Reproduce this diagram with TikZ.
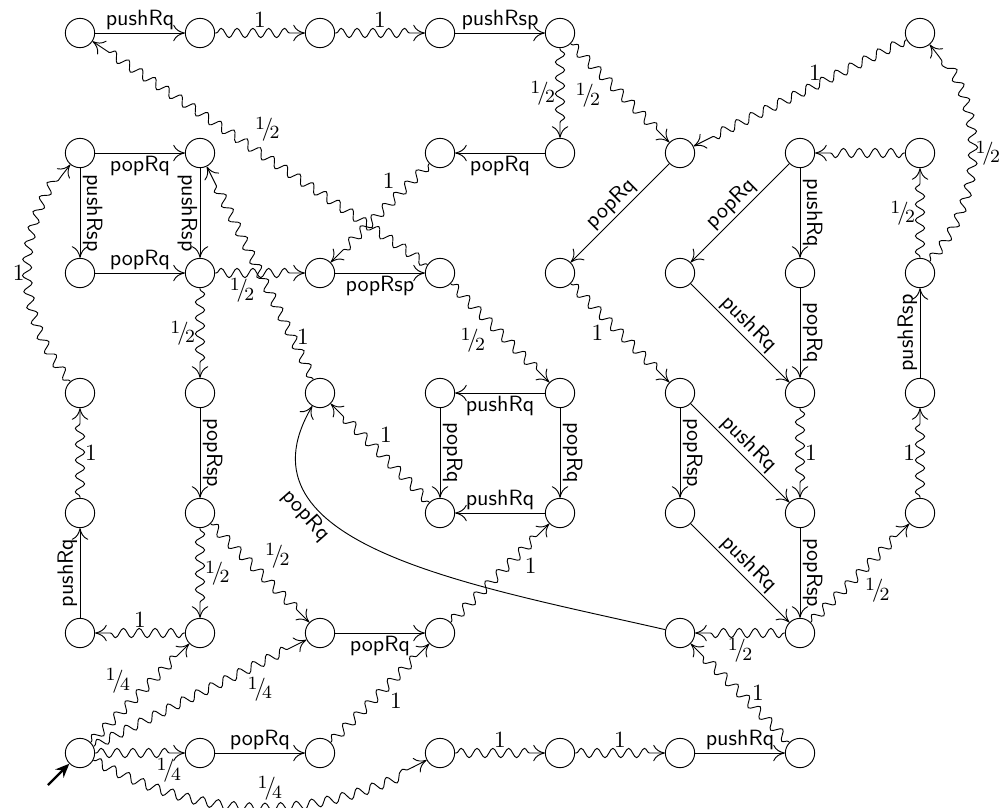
\documentclass[tikz,border=0pt]{standalone}
\usetikzlibrary{arrows.meta,decorations.pathmorphing}
\newcommand{\myfr}[2]{\raisebox{.62ex}{\footnotesize #1}\kern-.14em/\kern-.16em\raisebox{-.35ex}{\footnotesize #2}}
\begin{document}
\begin{tikzpicture}[x=0.43pt,y=-0.43pt,
  >={To[length=5pt,width=7pt]},
  stt/.style={circle,draw,minimum size=12.6pt,inner sep=0pt},
  trn/.style={->},
  prb/.style={->,decorate,decoration={snake,amplitude=2pt,segment length=6.8pt,pre length=0.5pt,post length=2.2mm}},
  act/.style={font=\sffamily\fontsize{9.5}{11}\selectfont,inner sep=1pt},
  num/.style={font=\fontsize{10}{11}\selectfont,inner sep=2pt},
  lbldn/.style={act,rotate=-90,anchor=south},
  lbldnl/.style={act,rotate=-90,anchor=north},
  lblup/.style={act,rotate=90,anchor=south},
  initarr/.style={line width=1pt,-{Stealth[length=6pt,width=5pt]}},
]
\useasboundingbox (0,0) rectangle (1002,807);
% states
\foreach \c/\r in {0/0,0/1,0/2,0/3,0/4,0/5,0/6,
                   1/0,1/1,1/2,1/3,1/4,1/5,1/6,
                   2/0,2/2,2/3,2/5,2/6,
                   3/0,3/1,3/2,3/3,3/4,3/5,3/6,
                   4/0,4/1,4/2,4/3,4/4,4/6,
                   5/1,5/2,5/3,5/4,5/5,5/6,
                   6/1,6/2,6/3,6/4,6/5,6/6,
                   7/0,7/1,7/2,7/3,7/4}
  \node[stt] (n\c\r) at ({80+120*\c},{33+120*\r}) {};
% top row
\draw[trn] (n00) -- node[act,above]{pushRq} (n10);
\draw[prb] (n10) -- node[num,above]{1} (n20);
\draw[prb] (n20) -- node[num,above]{1} (n30);
\draw[trn] (n30) -- node[act,above]{pushRsp} (n40);
\draw[prb] (n40) -- node[num,left]{\myfr12} (n41);
\draw[prb] (n40) -- node[num,pos=0.35,below left]{\myfr12} (n51);
\draw[prb] (n70) -- node[num,pos=0.43,above]{1} (n51);
\draw[prb] (n72) to[bend right=40] node[num,right]{\myfr12} (n70);
\draw[prb] (n71) -- (n61);
\draw[prb] (n72) -- node[num,left]{\myfr12} (n71);
\draw[trn] (n73) -- node[lblup]{pushRsp} (n72);
\draw[prb] (n74) -- node[num,left]{1} (n73);
\draw[prb] (n65) -- node[num,below right]{\myfr12} (n74);
% right cluster
\draw[trn] (n51) -- node[act,sloped,above]{popRq} (n42);
\draw[prb] (n42) -- node[num,left=5pt]{1} (n53);
\draw[trn] (n61) -- node[act,sloped,above]{popRq} (n52);
\draw[trn] (n61) -- node[lbldn]{pushRq} (n62);
\draw[trn] (n52) -- node[act,sloped,above]{pushRq} (n63);
\draw[trn] (n62) -- node[lbldn]{popRq} (n63);
\draw[prb] (n63) -- node[num,right]{1} (n64);
\draw[trn] (n53) -- node[lbldn]{popRsp} (n54);
\draw[trn] (n53) -- node[act,sloped,above]{pushRq} (n64);
\draw[trn] (n54) -- node[act,sloped,above]{pushRq} (n65);
\draw[trn] (n64) -- node[lbldn]{popRsp} (n65);
\draw[prb] (n65) -- node[num,below]{\myfr12} (n55);
\draw[prb] (n66) -- node[num,right=3pt]{1} (n55);
\draw[trn] (n55) .. controls (470,585) and (230,545) .. node[act,sloped,below,pos=0.7]{popRq} (n23);
% bottom
\draw[trn] (n56) -- node[act,above]{pushRq} (n66);
\draw[prb] (n46) -- node[num,above]{1} (n56);
\draw[prb] (n36) -- node[num,above]{1} (n46);
\draw[prb] (n06) to[bend right=28] node[num,pos=0.53,above]{\myfr14} (n36);
\draw[prb] (n06) -- node[num,pos=0.82,below]{\myfr14} (n16);
\draw[prb] (n06) -- node[num,pos=0.45,above left]{\myfr14} (n15);
\draw[prb] (n06) -- node[num,pos=0.7,below right]{\myfr14} (n25);
\draw[trn] (n16) -- node[act,above]{popRq} (n26);
\draw[prb] (n26) -- node[num,pos=0.55,below right]{1} (n35);
\draw[trn] (n25) -- node[act,below]{popRq} (n35);
\draw[prb] (n35) -- node[num,pos=0.7,below right]{1} (n44);
% centre square
\draw[trn] (n44) -- node[act,above]{pushRq} (n34);
\draw[trn] (n43) -- node[act,below]{pushRq} (n33);
\draw[trn] (n33) -- node[lbldn]{popRq} (n34);
\draw[trn] (n43) -- node[lbldn]{popRq} (n44);
\draw[prb] (n34) -- node[num,pos=0.55,above right]{1} (n23);
\draw[prb] (n32) -- node[num,pos=0.4,below left]{\myfr12} (n43);
\draw[prb] (n32) -- node[num,pos=0.53,above right]{\myfr12} (n00);
\draw[trn] (n22) -- node[act,below]{popRsp} (n32);
\draw[prb] (n31) -- node[num,pos=0.3,above left]{1} (n22);
\draw[trn] (n41) -- node[act,below]{popRq} (n31);
\draw[prb] (n23) -- node[num,pos=0.2,right]{1} (n11);
% left
\draw[prb] (n12) -- node[num,pos=0.3,below]{\myfr12} (n22);
\draw[prb] (n12) -- node[num,left]{\myfr12} (n13);
\draw[trn] (n02) -- node[act,above]{popRq} (n12);
\draw[trn] (n01) -- node[act,below]{popRq} (n11);
\draw[trn] (n01) -- node[lbldn]{pushRsp} (n02);
\draw[trn] (n11) -- node[lbldnl]{pushRsp} (n12);
\draw[prb] (n03) to[bend left=40] node[num,left]{1} (n01);
\draw[trn] (n13) -- node[lbldn]{popRsp} (n14);
\draw[prb] (n14) -- node[num,right]{\myfr12} (n15);
\draw[prb] (n14) -- node[num,above right]{\myfr12} (n25);
\draw[prb] (n15) -- node[num,above]{1} (n05);
\draw[trn] (n05) -- node[lblup]{pushRq} (n04);
\draw[prb] (n04) -- node[num,right]{1} (n03);
\coordinate (init) at (48,785);
\draw[initarr] (init) -- (n06);
\end{tikzpicture}
\end{document}
